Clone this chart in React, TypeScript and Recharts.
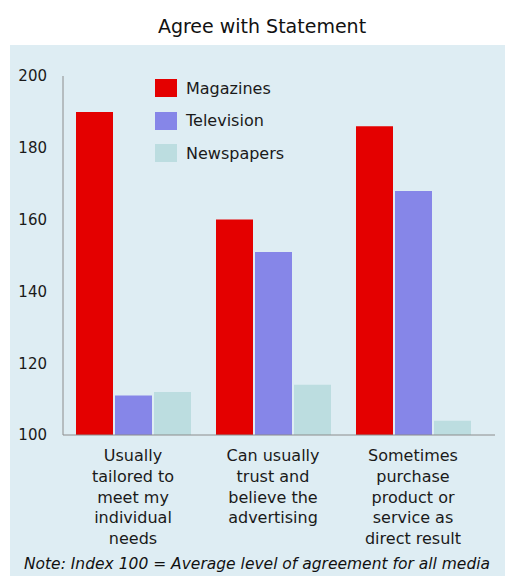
import { Bar, BarChart, Legend, XAxis, YAxis } from 'recharts';

const categories = [
  ['Usually', 'tailored to', 'meet my', 'individual', 'needs'],
  ['Can usually', 'trust and', 'believe the', 'advertising'],
  ['Sometimes', 'purchase', 'product or', 'service as', 'direct result'],
];
const magazines  = [190, 160, 186];
const television = [111, 151, 168];
const newspapers = [112, 114, 104];
const yTicks = [100, 120, 140, 160, 180, 200];

const series = [
  { key: 'magazines',  name: 'Magazines',  color: '#e40000' },
  { key: 'television', name: 'Television', color: '#8686e8' },
  { key: 'newspapers', name: 'Newspapers', color: '#bcdde0' },
];

const data = categories.map((lines, i) => ({
  label: lines.join(' '),
  magazines: magazines[i],
  television: television[i],
  newspapers: newspapers[i],
}));

const FONT = '"DejaVu Sans", sans-serif';

function CategoryTick(props: any) {
  const { x, y, index } = props;
  const lines = categories[index] ?? [];
  return (
    <text x={x} y={y} textAnchor="middle" fill="#1a1a1a" fontSize={16} fontFamily={FONT}>
      {lines.map((ln, i) => (
        <tspan key={i} x={x} dy={i === 0 ? 26 : 20.8}>{ln}</tspan>
      ))}
    </text>
  );
}

// keep the legend in series order (recharts sorts by name otherwise)
function LegendBox() {
  return (
    <div style={{ fontFamily: FONT, fontSize: 16, color: '#1a1a1a' }}>
      {series.map((s) => (
        <div key={s.key} style={{ display: 'flex', alignItems: 'center', height: 32.5 }}>
          <span style={{ width: 22, height: 18, background: s.color, display: 'inline-block', marginRight: 9 }} />
          <span>{s.name}</span>
        </div>
      ))}
    </div>
  );
}

export default function App() {
  return (
    <div style={{ position: 'absolute', left: 0, top: 0, width: 505, height: 576, background: '#fff', overflow: 'hidden' }}>
      <div style={{ position: 'absolute', left: 10, top: 45, width: 495, height: 531, background: '#deedf3' }} />
      <div style={{ position: 'absolute', left: 0, width: 524, top: 15, textAlign: 'center', fontFamily: FONT, fontSize: 19, lineHeight: '22px', color: '#111' }}>
        Agree with Statement
      </div>
      <div style={{ position: 'absolute', left: 0, width: 514, top: 555, textAlign: 'center', fontFamily: FONT, fontSize: 15.5, lineHeight: '18px', fontStyle: 'italic', color: '#111' }}>
        Note: Index 100 = Average level of agreement for all media
      </div>
      <div style={{ position: 'absolute', left: 0, top: 0 }}>
        <BarChart
          width={505}
          height={576}
          data={data}
          margin={{ top: 76, right: 10, bottom: 0, left: 0 }}
          barSize={37}
          barGap={2}
        >
          <YAxis
            domain={[100, 200]}
            ticks={yTicks}
            allowDataOverflow
            width={63}
            tickLine={false}
            tickSize={0}
            tickMargin={16}
            axisLine={{ stroke: '#8c8c8c' }}
            tick={{ fill: '#1a1a1a', fontSize: 15, fontFamily: FONT }}
          />
          <XAxis
            dataKey="label"
            height={141}
            tickLine={false}
            tickSize={0}
            tickMargin={0}
            interval={0}
            padding={{ left: 0, right: 12 }}
            axisLine={{ stroke: '#8c8c8c' }}
            tick={<CategoryTick />}
          />
          <Legend
            layout="vertical"
            align="center"
            verticalAlign="middle"
            content={<LegendBox />}
            wrapperStyle={{ left: 155, top: 72, width: 200, height: 100 }}
          />
          {series.map((s) => (
            <Bar key={s.key} dataKey={s.key} name={s.name} fill={s.color} isAnimationActive={false} />
          ))}
        </BarChart>
      </div>
    </div>
  );
}
